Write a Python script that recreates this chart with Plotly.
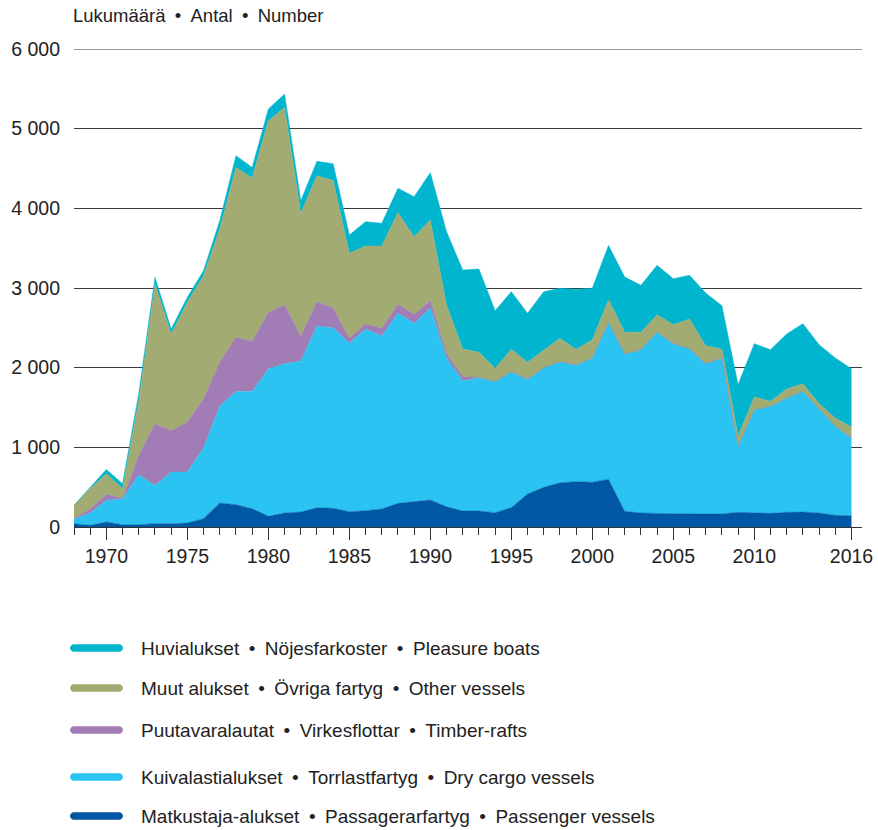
import plotly.graph_objects as go

years = list(range(1968, 2017))

passenger = [42, 21, 63, 29, 29, 42, 42, 50, 105, 301, 280, 230, 134, 176, 188, 242, 235,
             192, 205, 226, 297, 318, 339, 255, 201, 201, 180, 243, 414, 498, 556, 569, 563,
             600, 197, 176, 167, 167, 167, 163, 163, 184, 180, 172, 184, 188, 176, 146, 142]

dry_cargo = [54, 155, 271, 326, 627, 480, 648, 640, 890, 1216, 1421, 1471, 1852, 1872, 1894,
             2279, 2265, 2113, 2280, 2171, 2385, 2238, 2406, 1862, 1632, 1673, 1644, 1707,
             1439, 1502, 1519, 1464, 1557, 1969, 1975, 2050, 2281, 2134, 2071, 1887, 1958,
             829, 1293, 1343, 1435, 1515, 1305, 1118, 975]

timber = [9, 54, 76, 5, 243, 774, 522, 627, 614, 552, 682, 631, 710, 740, 313, 309, 246,
          63, 63, 97, 113, 113, 96, 63, 54, 5, 0, 0, 0, 0, 0, 0, 0, 0, 0, 0, 0, 0, 0, 0,
          0, 0, 0, 0, 0, 0, 0, 0, 0]

other = [167, 251, 259, 121, 689, 1755, 1212, 1504, 1547, 1672, 2131, 2049, 2404, 2479,
         1542, 1580, 1604, 1067, 979, 1033, 1151, 975, 1012, 607, 347, 313, 168, 280, 214,
         222, 293, 197, 229, 282, 271, 217, 217, 239, 373, 226, 113, 125, 159, 62, 113, 96,
         67, 104, 138]

pleasure = [0, 21, 54, 62, 92, 84, 60, 63, 63, 105, 147, 133, 146, 167, 159, 180, 210, 230,
            306, 285, 305, 502, 595, 920, 992, 1046, 723, 724, 615, 732, 628, 753, 649, 684,
            695, 590, 619, 577, 548, 661, 544, 649, 669, 649, 691, 753, 741, 753, 732]

y_ticks = [0, 1000, 2000, 3000, 4000, 5000, 6000]
y_ticktext = ["0", "1 000", "2 000", "3 000", "4 000", "5 000", "6 000"]
x_major = [1970, 1975, 1980, 1985, 1990, 1995, 2000, 2005, 2010, 2016]

SEP = "\u2002•\u2002"
series = [
    ("Matkustaja-alukset" + SEP + "Passagerarfartyg" + SEP + "Passenger vessels", passenger, "#0057a4"),
    ("Kuivalastialukset" + SEP + "Torrlastfartyg" + SEP + "Dry cargo vessels", dry_cargo, "#2bc4f2"),
    ("Puutavaralautat" + SEP + "Virkesflottar" + SEP + "Timber-rafts", timber, "#a17cb5"),
    ("Muut alukset" + SEP + "Övriga fartyg" + SEP + "Other vessels", other, "#a2ac72"),
    ("Huvialukset" + SEP + "Nöjesfarkoster" + SEP + "Pleasure boats", pleasure, "#00b5cd"),
]

FONT = "Liberation Sans, Arial, Helvetica, sans-serif"
TXT = "#222222"
GRID = "#3a3a3a"

fig = go.Figure()
for name, vals, col in series:
    fig.add_trace(go.Scatter(
        x=years, y=vals, name=name, mode="lines", stackgroup="one",
        line=dict(width=0.5, color=col), fillcolor=col, showlegend=False,
        hoverinfo="x+y+name"))

W, H = 878, 830
ML, MR, MT, MB = 74, 16, 49, 303
pw, ph = W - ML - MR, H - MT - MB

def px_to_paper_x(px):
    return (px - ML) / pw

def px_to_paper_y(py):
    return (H - MB - py) / ph

annotations = [dict(
    text="Lukumäärä" + SEP + "Antal" + SEP + "Number", xref="paper", yref="paper",
    x=px_to_paper_x(71), y=px_to_paper_y(15), xanchor="left", yanchor="middle",
    showarrow=False, font=dict(family=FONT, size=18.5, color=TXT))]
shapes = [dict(type="line", xref="paper", x0=0, x1=1, yref="y", y0=6000, y1=6000,
               line=dict(color=GRID, width=1), layer="below")]

legend_y = [816, 777, 730, 688, 648]
for (name, vals, col), ly in zip(series, legend_y):
    annotations.append(dict(
        text=name, xref="paper", yref="paper", x=px_to_paper_x(139), y=px_to_paper_y(ly),
        xanchor="left", yanchor="middle", showarrow=False,
        font=dict(family=FONT, size=19, color=TXT)))
    r = 3.8
    L = 53
    path = (f"M {r},{r} L {L-r},{r} C {L-r*0.45},{r} {L},{r*0.45} {L},0 "
            f"C {L},{-r*0.45} {L-r*0.45},{-r} {L-r},{-r} L {r},{-r} "
            f"C {r*0.45},{-r} 0,{-r*0.45} 0,0 C 0,{r*0.45} {r*0.45},{r} {r},{r} Z")
    shapes.append(dict(
        type="path", xref="paper", yref="paper", xsizemode="pixel", ysizemode="pixel",
        xanchor=px_to_paper_x(70), yanchor=px_to_paper_y(ly), path=path,
        fillcolor=col, line=dict(width=0)))

fig.update_layout(
    width=W, height=H, autosize=False,
    margin=dict(l=ML, r=MR, t=MT, b=MB, pad=0),
    paper_bgcolor="white", plot_bgcolor="white",
    font=dict(family=FONT, size=19, color=TXT),
    annotations=annotations, shapes=shapes,
    xaxis=dict(
        range=[1968, 2016.65], tickmode="array", tickvals=x_major,
        ticktext=[str(v) for v in x_major], automargin=False,
        ticks="outside", ticklen=12, tickwidth=1, tickcolor="#333333",
        showline=True, linecolor="#333333", linewidth=1, showgrid=False, zeroline=False,
        tickfont=dict(family=FONT, size=19.5, color=TXT),
        minor=dict(tickmode="array", tickvals=years, ticks="outside", ticklen=7,
                   tickwidth=1, tickcolor="#333333", showgrid=False),
        fixedrange=True),
    yaxis=dict(
        range=[0, 6000], tickmode="array", tickvals=y_ticks, ticktext=y_ticktext,
        ticks="", showline=False, showgrid=True, gridcolor=GRID, gridwidth=1,
        zeroline=False, ticklabelstandoff=13, automargin=False,
        tickfont=dict(family=FONT, size=19.5, color=TXT), fixedrange=True),
)

fig.write_html("out.html",
               config={"displayModeBar": False, "responsive": False},
               post_script="document.body.style.margin='0';document.body.style.overflow='hidden';")
